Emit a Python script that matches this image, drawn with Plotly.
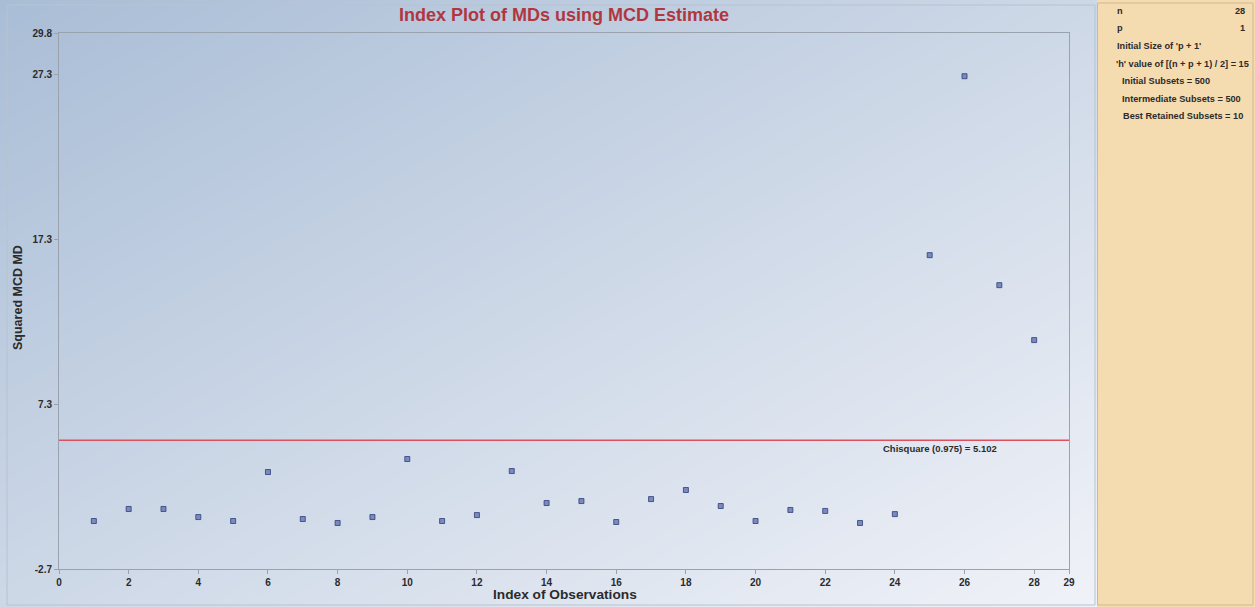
import plotly.graph_objects as go

# Squared robust (MCD) Mahalanobis distances per observation
obs_index = list(range(1, 29))
squared_md = [0.21, 0.94, 0.94, 0.45, 0.21, 3.18, 0.33, 0.09, 0.45, 3.97,
              0.21, 0.57, 3.24, 1.30, 1.42, 0.15, 1.54, 2.09, 1.12, 0.21,
              0.88, 0.82, 0.09, 0.63, 16.33, 27.18, 14.51, 11.18]

# Cut-off value
chisq_cut = 5.102
chisq_label = "Chisquare (0.975) = 5.102"

# Axis ticks
x_ticks = [0, 2, 4, 6, 8, 10, 12, 14, 16, 18, 20, 22, 24, 26, 28, 29]
y_ticks = [-2.7, 7.3, 17.3, 27.3, 29.8]
y_tick_labels = ["-2.7", "7.3", "17.3", "27.3", "29.8"]

# Side panel summary
panel_rows = [
    ("n", "28", 0),
    ("p", "1", 0),
    ("Initial Size of 'p + 1'", "", 0),
    ("'h' value of [(n + p + 1) / 2] = 15", "", -1),
    ("Initial Subsets = 500", "", 5),
    ("Intermediate Subsets = 500", "", 5),
    ("Best Retained Subsets = 10", "", 6),
]

W, H = 1255, 607
FONT = "Liberation Sans, Arial, sans-serif"
TEXT = "#2b2b2b"

def px_x(p):
    return p / W

def px_y(p):
    return 1 - p / H

fig = go.Figure()

# Diagonal background wash behind the chart
fig.add_trace(go.Heatmap(
    x=[0, 1], y=[0, 1],
    z=[[0.5, 1.0], [0.0, 0.5]],
    zsmooth="best", showscale=False, hoverinfo="skip",
    colorscale=[[0, "#a9bdd6"], [0.5, "#cdd8e7"], [1, "#f0f2f8"]],
    xaxis="x", yaxis="y",
))

# Observation markers
fig.add_trace(go.Scatter(
    x=obs_index, y=squared_md, mode="markers",
    marker=dict(symbol="square", size=5, color="#7a8abd",
                line=dict(color="#2f3d78", width=0.8)),
    xaxis="x2", yaxis="y2", showlegend=False,
))

tick_font = dict(family=FONT, size=10, color=TEXT, weight="bold")

fig.update_layout(
    template="none",
    width=W, height=H, autosize=False,
    margin=dict(l=0, r=0, t=0, b=0, pad=0),
    paper_bgcolor="#f5dcb0",
    plot_bgcolor="rgba(0,0,0,0)",
    showlegend=False,
    xaxis=dict(domain=[0, px_x(1097)], range=[0, 1], visible=False,
               fixedrange=True, automargin=False),
    yaxis=dict(domain=[0, 1], range=[0, 1], visible=False,
               fixedrange=True, automargin=False),
    xaxis2=dict(
        domain=[px_x(59), px_x(1069)], range=[0, 29], anchor="y2", automargin=False,
        tickvals=x_ticks, ticktext=[str(t) for t in x_ticks],
        ticks="outside", ticklen=4, tickcolor="#9aa3ad",
        showline=True, linecolor="#9aa3ad", linewidth=1, mirror=True,
        showgrid=False, zeroline=False, tickfont=tick_font,
    ),
    yaxis2=dict(
        domain=[px_y(569), px_y(33)], range=[-2.7, 29.8], anchor="x2", automargin=False,
        tickvals=y_ticks, ticktext=y_tick_labels,
        ticks="outside", ticklen=4, tickcolor="#9aa3ad",
        showline=True, linecolor="#9aa3ad", linewidth=1, mirror=True,
        showgrid=False, zeroline=False, tickfont=tick_font,
    ),
)

shapes = [
    # cut-off line
    dict(type="line", xref="x2", yref="y2", x0=0, x1=29, y0=chisq_cut, y1=chisq_cut,
         line=dict(color="#e0505c", width=1.5)),
    # outer chart frame
    dict(type="rect", xref="paper", yref="paper",
         x0=px_x(7), x1=px_x(1095), y0=px_y(605), y1=px_y(5),
         line=dict(color="#b8c2cf", width=1), layer="above"),
    # side panel frame
    dict(type="rect", xref="paper", yref="paper",
         x0=px_x(1097.5), x1=px_x(1253), y0=px_y(605), y1=px_y(3),
         line=dict(color="#cdb994", width=1)),
]
fig.update_layout(shapes=shapes)

ann = []
ann.append(dict(text="<b>Index Plot of MDs using MCD Estimate</b>", xref="paper", yref="paper",
                x=px_x(564), y=px_y(15), xanchor="center", yanchor="middle", showarrow=False,
                font=dict(family=FONT, size=18, color="#b0373f")))
ann.append(dict(text="<b>Index of Observations</b>", xref="paper", yref="paper",
                x=px_x(565), y=px_y(594), xanchor="center", yanchor="middle", showarrow=False,
                font=dict(family=FONT, size=13.7, color=TEXT)))
ann.append(dict(text="<b>Squared MCD MD</b>", xref="paper", yref="paper",
                x=px_x(18), y=px_y(298), xanchor="center", yanchor="middle", showarrow=False,
                textangle=-90, font=dict(family=FONT, size=12.5, color=TEXT)))
ann.append(dict(text="<b>" + chisq_label + "</b>", xref="x2", yref="y2",
                x=23.6, y=chisq_cut, xanchor="left", yanchor="top", yshift=-1, showarrow=False,
                font=dict(family=FONT, size=9.5, color=TEXT)))

row_y = [11, 28, 46, 64, 81, 99, 116]
for (label, value, dx), yy in zip(panel_rows, row_y):
    ann.append(dict(text="<b>" + label + "</b>", xref="paper", yref="paper",
                    x=px_x(1115 + dx), y=px_y(yy), xanchor="left", yanchor="middle",
                    showarrow=False, font=dict(family=FONT, size=9.2, color=TEXT)))
    if value:
        ann.append(dict(text="<b>" + value + "</b>", xref="paper", yref="paper",
                        x=px_x(1247), y=px_y(yy), xanchor="right", yanchor="middle",
                        showarrow=False, font=dict(family=FONT, size=9.2, color=TEXT)))
fig.update_layout(annotations=ann)

fig.write_html("out.html")
